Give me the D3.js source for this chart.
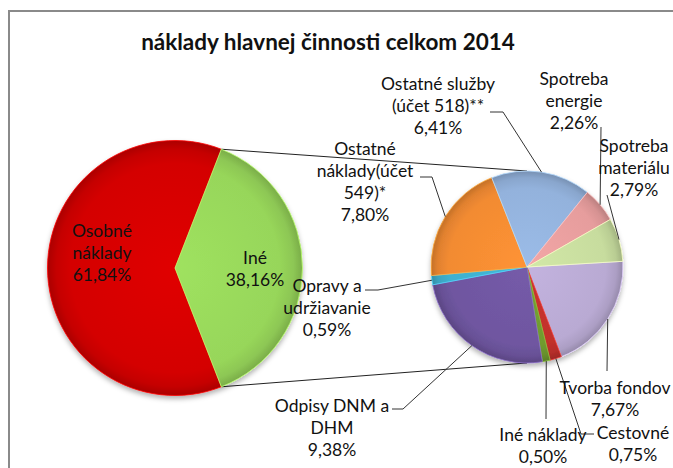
<!DOCTYPE html>
<html>
<head>
<meta charset="utf-8">
<script src="https://cdn.jsdelivr.net/npm/d3@7"></script>
<style>
  body { margin: 0; background: #fff; }
  text { font-family: Lato, "Open Sans", sans-serif; fill: #111; }
</style>
</head>
<body>
<svg id="chart" width="673" height="468"></svg>
<script>
// first pie
var mainNames = ['Osobné náklady', 'Iné'];
var mainValues = [61.84, 38.16];
var mainLines = [['Osobné', 'náklady'], ['Iné']];
var mainColors = ['#d40404', '#97d65a'];

// second pie (split of 'Iné'), clockwise order as in the picture
var subNames = ['Tvorba fondov', 'Cestovné', 'Iné náklady', 'Odpisy DNM a DHM', 'Opravy a udržiavanie',
  'Ostatné náklady(účet 549)*', 'Ostatné služby (účet 518)**', 'Spotreba energie', 'Spotreba materiálu'];
var subValues = [7.67, 0.75, 0.50, 9.38, 0.59, 7.80, 6.41, 2.26, 2.79];
var subLines = [['Tvorba fondov'], ['Cestovné'], ['Iné náklady'], ['Odpisy DNM a', 'DHM'], ['Opravy a', 'udržiavanie'],
  ['Ostatné', 'náklady(účet', '549)*'], ['Ostatné služby', '(účet 518)**'], ['Spotreba', 'energie'], ['Spotreba', 'materiálu']];
var subColors = ['#b9aad3', '#c1302c', '#6f9b2f', '#6f56a0', '#3fb0cf', '#f28b32', '#93b2dc', '#e69d9d', '#c7dc9e'];

var title = 'náklady hlavnej činnosti celkom 2014';

// layout
var svg = d3.select('#chart');
var lineH = 22;
var p1 = {cx: 175, cy: 268, r: 127.5};
var p2 = {cx: 527, cy: 267, r: 96};

// label anchor (center of first line) and leader path end points, per label
var mainLabelPos = [[102, 230], [255, 257]];
var subLabelPos = [[615, 387], [633, 432], [543, 434], [332, 405], [327, 285], [365, 148], [438, 83], [574, 78], [634, 145]];
var subLeaders = [
  [[607, 371]],
  [[581, 434], [594, 434]],
  [[546, 419]],
  [[403, 409], [392, 409]],
  [[378, 290], [365, 290]],
  [[432, 177], [420, 177]],
  [[503, 112], [490, 112]],
  [[601, 127]],
  [[607, 195]]
];

var fmt = v => v.toFixed(2).replace('.', ',') + '%';

var defs = svg.append('defs');
defs.append('filter')
    .attr('id', 'shadow')
    .attr('x', '-20%').attr('y', '-20%').attr('width', '140%').attr('height', '140%')
  .append('feDropShadow')
    .attr('dx', 0).attr('dy', 3)
    .attr('stdDeviation', 2.5)
    .attr('flood-color', '#000')
    .attr('flood-opacity', 0.3);

function addGradient(id, color, r) {
  var c = d3.color(color);
  var g = defs.append('radialGradient')
      .attr('id', id)
      .attr('gradientUnits', 'userSpaceOnUse')
      .attr('cx', 0).attr('cy', 0).attr('r', r);
  g.append('stop').attr('offset', '0%').attr('stop-color', c.brighter(0.15));
  g.append('stop').attr('offset', '82%').attr('stop-color', c);
  g.append('stop').attr('offset', '93%').attr('stop-color', c.darker(0.2));
  g.append('stop').attr('offset', '100%').attr('stop-color', c.darker(0.6));
}

// chart frame
svg.append('rect')
    .attr('x', 9).attr('y', 11)
    .attr('width', 720).attr('height', 520)
    .attr('fill', 'none')
    .attr('stroke', '#8a8a8a')
    .attr('stroke-width', 2);

svg.append('text')
    .attr('x', 328)
    .attr('y', 41)
    .attr('text-anchor', 'middle')
    .attr('dominant-baseline', 'central')
    .style('font-weight', 'bold')
    .style('font-size', '22.5px')
    .text(title);

// pies
var ineShare = mainValues[1] / d3.sum(mainValues);
var pie1 = d3.pie().sort(null).startAngle(Math.PI / 2 + ineShare * Math.PI).endAngle(Math.PI / 2 + ineShare * Math.PI + 2 * Math.PI);
var pie2 = d3.pie().sort(null).startAngle(86.6 * Math.PI / 180).endAngle(86.6 * Math.PI / 180 + 2 * Math.PI);

var arcs1 = pie1(mainValues);
var arcs2 = pie2(subValues);

mainColors.forEach((c, i) => addGradient('g1-' + i, c, p1.r));
subColors.forEach((c, i) => addGradient('g2-' + i, c, p2.r));

var arc1 = d3.arc().innerRadius(0).outerRadius(p1.r);
var arc2 = d3.arc().innerRadius(0).outerRadius(p2.r);
var rim2 = d3.arc().innerRadius(p2.r).outerRadius(p2.r);

// connector lines from the 'Iné' slice to the second pie
var ine = arcs1[1];
var pt = (a, r) => [r * Math.sin(a), -r * Math.cos(a)];
var topPt = pt(ine.startAngle, p1.r), botPt = pt(ine.endAngle, p1.r);
svg.append('line')
    .attr('x1', p1.cx + topPt[0]).attr('y1', p1.cy + topPt[1])
    .attr('x2', p2.cx).attr('y2', p2.cy - p2.r)
    .attr('stroke', '#222').attr('stroke-width', 1);
svg.append('line')
    .attr('x1', p1.cx + botPt[0]).attr('y1', p1.cy + botPt[1])
    .attr('x2', p2.cx).attr('y2', p2.cy + p2.r)
    .attr('stroke', '#222').attr('stroke-width', 1);

var g1 = svg.append('g')
    .attr('transform', `translate(${p1.cx},${p1.cy})`)
    .attr('filter', 'url(#shadow)');
g1.selectAll('path')
  .data(arcs1)
  .enter()
  .append('path')
    .attr('d', arc1)
    .attr('fill', (d, i) => `url(#g1-${i})`)
    .attr('stroke', (d, i) => d3.color(mainColors[i]).brighter(0.6))
    .attr('stroke-width', 0.8);

var g2 = svg.append('g')
    .attr('transform', `translate(${p2.cx},${p2.cy})`)
    .attr('filter', 'url(#shadow)');
g2.selectAll('path')
  .data(arcs2)
  .enter()
  .append('path')
    .attr('d', arc2)
    .attr('fill', (d, i) => `url(#g2-${i})`)
    .attr('stroke', (d, i) => d3.color(subColors[i]).brighter(0.6))
    .attr('stroke-width', 0.8);

// leader lines
var line = d3.line();
svg.selectAll('.leader')
  .data(arcs2)
  .enter()
  .append('path')
    .classed('leader', true)
    .attr('d', (d, i) => {
      var c = rim2.centroid(d);
      return line([[p2.cx + c[0], p2.cy + c[1]]].concat(subLeaders[i]));
    })
    .attr('fill', 'none')
    .attr('stroke', '#333')
    .attr('stroke-width', 1);

function drawLabel(lines, value, pos) {
  var t = svg.append('text')
      .attr('text-anchor', 'middle')
      .style('font-size', '17.5px');
  lines.concat([fmt(value)]).forEach((s, k) => {
    t.append('tspan')
      .attr('x', pos[0])
      .attr('y', pos[1] + k * lineH)
      .attr('dominant-baseline', 'central')
      .text(s);
  });
}

mainValues.forEach((v, i) => drawLabel(mainLines[i], v, mainLabelPos[i]));
subValues.forEach((v, i) => drawLabel(subLines[i], v, subLabelPos[i]));
</script>
</body>
</html>
